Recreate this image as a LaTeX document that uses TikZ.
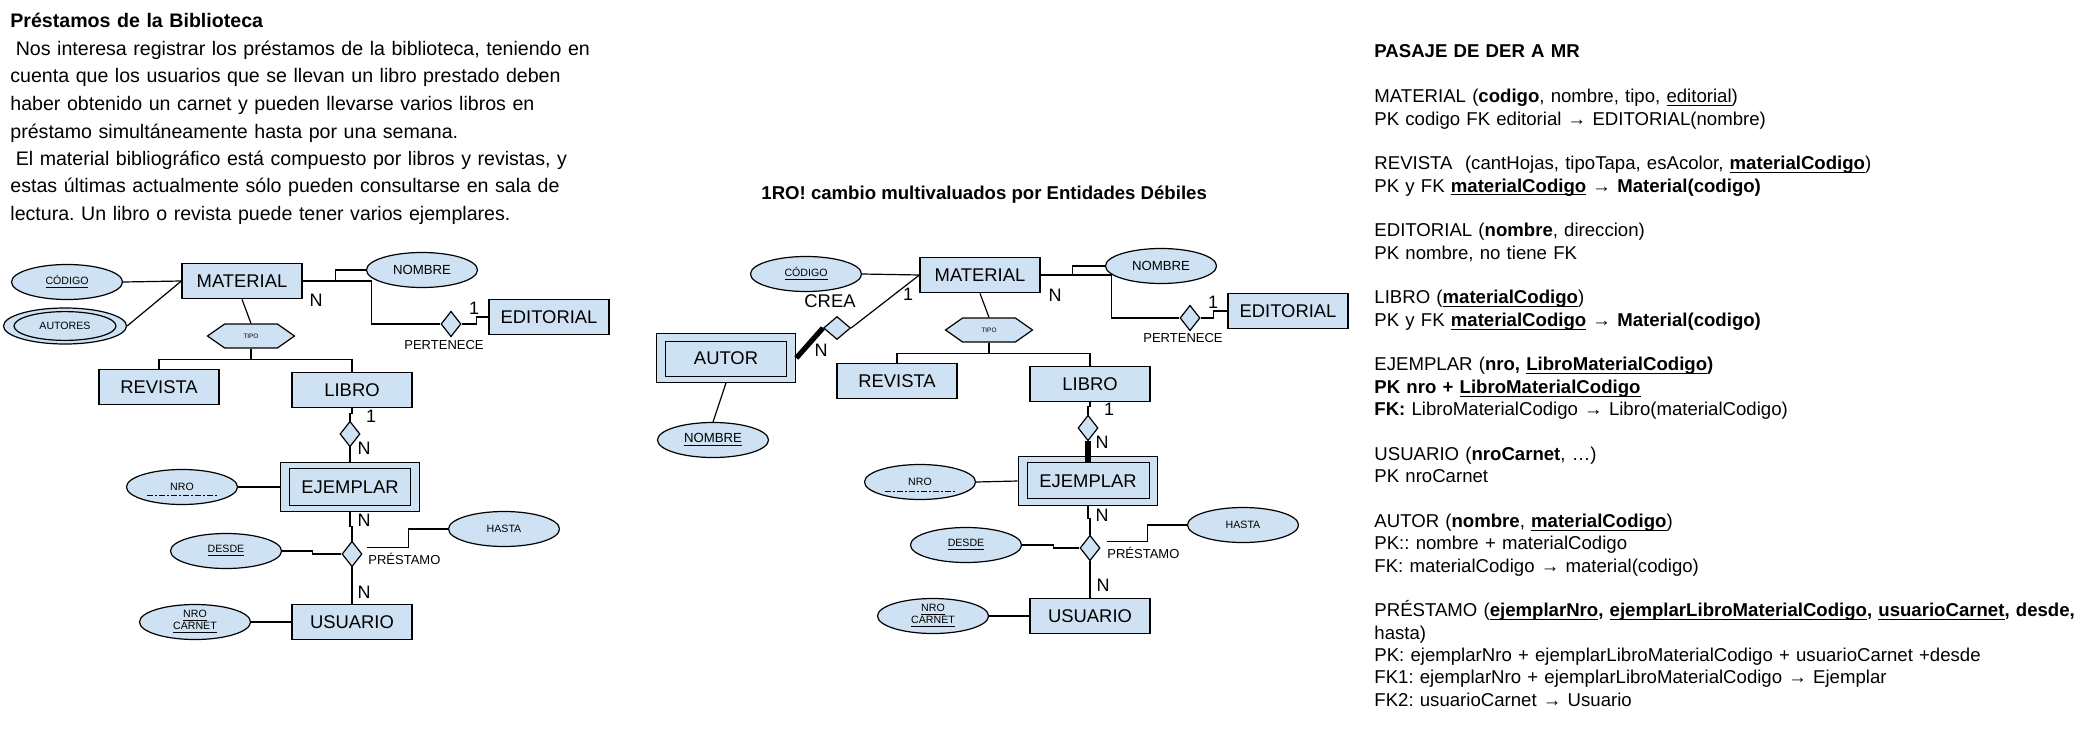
\documentclass[tikz,border=0pt]{standalone}
\usepackage{fontspec}
\setmainfont{Liberation Sans}
\usepackage{xcolor}
\usetikzlibrary{shapes.geometric, shapes.symbols}
\definecolor{erblue}{HTML}{CFE2F3}
\newcommand{\undl}[1]{\underline{\smash{#1}}}
\frenchspacing

\begin{document}
\begin{tikzpicture}[x=0.5pt,y=-0.5pt,
    entity/.style={draw, fill=erblue, line width=0.6pt, minimum width=60pt, minimum height=17.75pt, inner sep=0pt, font=\fontsize{9.2}{11}\selectfont},
    weakent/.style={entity, minimum width=69.75pt, minimum height=24.25pt},
    attr/.style={ellipse, draw, fill=erblue, line width=0.6pt, minimum width=55.5pt, minimum height=17.5pt, inner sep=0pt, font=\fontsize{5.3}{6.3}\selectfont},
    bigattr/.style={attr, font=\fontsize{6.6}{8}\selectfont},
    rel/.style={diamond, draw, fill=erblue, line width=0.6pt, minimum width=10pt, minimum height=12.75pt, inner sep=0pt},
    isa/.style={signal, signal to=east and west, signal pointer angle=70, draw, fill=erblue, line width=0.6pt, minimum width=43.5pt, minimum height=12pt, inner sep=0pt, font=\fontsize{3.2}{4}\selectfont},
    card/.style={inner sep=0pt, font=\fontsize{9}{11}\selectfont},
    rellbl/.style={inner sep=0pt, font=\fontsize{6.5}{8}\selectfont},
    conn/.style={line width=0.6pt},
    totalline/.style={line width=2.6pt},
    dashdotline/.style={line width=0.4pt, dash pattern=on 3pt off 1.2pt on 0.6pt off 1.2pt},
    txt/.style={inner sep=0pt, anchor=base west, align=left, text width=380pt, font=\fontsize{9.3}{11.175}\selectfont},
]
\useasboundingbox (0,0) rectangle (2096,738);

% Text Node
\node[txt, font=\fontsize{9.8}{13.75}\selectfont] (enunciado) at (10,28) {\textbf{Préstamos de la Biblioteca}\\
\hspace*{2.7pt}Nos interesa registrar los préstamos de la biblioteca, teniendo en\\
cuenta que los usuarios que se llevan un libro prestado deben\\
haber obtenido un carnet y pueden llevarse varios libros en\\
préstamo simultáneamente hasta por una semana.\\
\hspace*{2.7pt}El material bibliográfico está compuesto por libros y revistas, y\\
estas últimas actualmente sólo pueden consultarse en sala de\\
lectura. Un libro o revista puede tener varios ejemplares.};

%Shape: Left diagram
\node[entity] (material) at (242,281) {MATERIAL};
\node[attr] (codigo) at (67,282) {\underline{CÓDIGO}};
\node[attr, minimum width=61.5pt, minimum height=18pt] (autores) at (65,326) {AUTORES};
\draw[conn] (autores.center) ellipse [x radius=25.5pt, y radius=7.2pt];
\node[bigattr] (nombre) at (422,270) {NOMBRE};
\node[rel] (pertenece) at (451,324) {};
\node[entity] (editorial) at (549,317) {EDITORIAL};
\node[isa] (tipo) at (251,336) {TIPO};
\node[entity] (revista) at (159,387) {REVISTA};
\node[entity] (libro) at (352,390) {LIBRO};
\node[rel] (tiene) at (350,434) {};
\node[weakent] (ejemplar) at (350,487) {EJEMPLAR};
\draw[conn] ([shift={(10,-6)}]ejemplar.south west) rectangle ([shift={(-10,6)}]ejemplar.north east);
\node[attr] (nro) at (182,487) {NRO};
\draw[dashdotline] ([xshift=-17.5pt,yshift=-4pt]nro.center) -- ([xshift=17.5pt,yshift=-4pt]nro.center);
\node[rel] (prestamo) at (352,554) {};
\node[attr] (desde) at (226,551) {\underline{DESDE}};
\node[attr] (hasta) at (504,529) {HASTA};
\node[entity] (usuario) at (352,622) {USUARIO};
\node[attr, align=center] (nrocarnet) at (195,622) {\underline{NRO}\\\underline{CARNET}};

%Straight Lines
\draw[conn] (codigo.east) -- (material.west);
\draw[conn] (autores.east) -- (material.west);
\draw[conn] (material.east) -- ++(33,0) |- (nombre.west);
\draw[conn] (material.east) -- ++(69,0) |- (pertenece.west);
\draw[conn] (pertenece.east) -- ++(15,0) |- (editorial.west);
\draw[conn] (material.south) -- (tipo.north);
\draw[conn] (tipo.south) -- ++(0,11) -| (revista.north);
\draw[conn] (tipo.south) -- ++(0,11) -| (libro.north);
\draw[conn] (libro.south) -- ++(0,5) -| (tiene.north);
\draw[conn] (tiene.south) -- (ejemplar.north);
\draw[conn] (nro.east) -- (ejemplar.west);
\draw[conn] (ejemplar.south) -- ++(0,15) -| (prestamo.north);
\draw[conn] (desde.east) -- ++(30,0) |- (prestamo.west);
\draw[conn] ([xshift=5pt]prestamo.north east) -- ++(41,0) |- (hasta.west);
\draw[conn] (prestamo.south) -- (usuario.north);
\draw[conn] (nrocarnet.east) -- (usuario.west);

% Text Node
\node[card] (cmatN) at (316,300) {N};
\node[card] (cedi1) at (474,308) {1};
\node[rellbl] (lpertenece) at (444,345) {PERTENECE};
\node[card] (clib1) at (371,416) {1};
\node[card] (cejeN) at (364,448) {N};
\node[card] (cpreN) at (364,520) {N};
\node[rellbl, anchor=west] (lprestamo) at (368,559) {PRÉSTAMO};
\node[card] (cusuN) at (364,592) {N};

% Text Node
\node[inner sep=0pt, anchor=base west, font=\fontsize{9.3}{11}\selectfont\bfseries] (paso) at (761,199.5) {1RO! cambio multivaluados por Entidades Débiles};

%Shape: Middle diagram
\node[entity] (material2) at (980,275) {MATERIAL};
\node[attr] (codigo2) at (806,274) {\underline{CÓDIGO}};
\node[bigattr] (nombre2) at (1161,266) {NOMBRE};
\node[rel] (pertenece2) at (1190,318) {};
\node[entity] (editorial2) at (1288,311) {EDITORIAL};
\node[rel, minimum width=13.5pt, minimum height=11.5pt] (crea) at (837,328) {};
\node[weakent] (autor) at (726,358) {AUTOR};
\draw[conn] ([shift={(10,-6)}]autor.south west) rectangle ([shift={(-10,8)}]autor.north east);
\node[bigattr] (nombre3) at (713,440) {\underline{NOMBRE}};
\node[isa] (tipo2) at (989,330) {TIPO};
\node[entity] (revista2) at (897,381) {REVISTA};
\node[entity] (libro2) at (1090,384) {LIBRO};
\node[rel] (tiene2) at (1088,428) {};
\node[weakent] (ejemplar2) at (1088,481) {EJEMPLAR};
\draw[conn] ([shift={(10,-7)}]ejemplar2.south west) rectangle ([shift={(-9,6)}]ejemplar2.north east);
\node[attr] (nro2) at (920,482) {NRO};
\draw[dashdotline] ([xshift=-17.5pt,yshift=-4.5pt]nro2.center) -- ([xshift=17.5pt,yshift=-4.5pt]nro2.center);
\node[rel] (prestamo2) at (1090,548) {};
\node[attr] (desde2) at (966,545) {\underline{DESDE}};
\node[attr] (hasta2) at (1243,525) {HASTA};
\node[entity] (usuario2) at (1090,616) {USUARIO};
\node[attr, align=center] (nrocarnet2) at (933,616) {\underline{NRO}\\\underline{CARNET}};

%Straight Lines
\draw[conn] (codigo2.east) -- (material2.west);
\draw[conn] (crea.east) -- (material2.west);
\draw[totalline] (crea.west) -- (autor.east);
\draw[conn] (autor.south) -- (nombre3.north);
\draw[conn] (material2.east) -- ++(32,0) |- (nombre2.west);
\draw[conn] (material2.east) -- ++(71,0) |- (pertenece2.west);
\draw[conn] (pertenece2.east) -- ++(13,0) |- (editorial2.west);
\draw[conn] (material2.south) -- (tipo2.north);
\draw[conn] (tipo2.south) -- ++(0,10.5) -| (revista2.north);
\draw[conn] (tipo2.south) -- ++(0,10.5) -| (libro2.north);
\draw[conn] (libro2.south) -- ++(0,4) -| (tiene2.north);
\draw[totalline, line width=3pt] (tiene2.south) -- ([yshift=-3pt]ejemplar2.north);
\draw[conn] (nro2.east) -- (ejemplar2.west);
\draw[conn] (ejemplar2.south) -- ++(0,13) -| (prestamo2.north);
\draw[conn] (desde2.east) -- ++(31,0) |- (prestamo2.west);
\draw[conn] ([xshift=6pt]prestamo2.north east) -- ++(40,0) |- (hasta2.west);
\draw[conn] (prestamo2.south) -- (usuario2.north);
\draw[conn] (nrocarnet2.east) -- (usuario2.west);

% Text Node
\node[card, font=\fontsize{9.2}{11}\selectfont] (lcrea) at (830,301) {CREA};
\node[card] (ccrea1) at (908,294) {1};
\node[card] (cautN) at (821,350) {N};
\node[card] (cmat2N) at (1055,295) {N};
\node[card] (cedi21) at (1213,302) {1};
\node[rellbl] (lpertenece2) at (1183,338) {PERTENECE};
\node[card] (clib21) at (1109,409) {1};
\node[card] (ceje2N) at (1102,442) {N};
\node[card] (cpre2N) at (1102,515) {N};
\node[rellbl, anchor=west] (lprestamo2) at (1107,553) {PRÉSTAMO};
\node[card] (cusu2N) at (1103,585) {N};

% Text Node
\node[txt] (pasaje) at (1374,58) {\textbf{PASAJE DE DER A MR}\\[11.175pt]
MATERIAL (\textbf{codigo}, nombre, tipo, \undl{editorial})\\
PK codigo FK editorial → EDITORIAL(nombre)\\[11.175pt]
REVISTA\ \ (cantHojas, tipoTapa, esAcolor, \textbf{\undl{materialCodigo}})\\
PK y FK \textbf{\undl{materialCodigo}} → \textbf{Material(codigo)}\\[11.175pt]
EDITORIAL (\textbf{nombre}, direccion)\\
PK nombre, no tiene FK\\[11.175pt]
LIBRO (\textbf{\undl{materialCodigo}})\\
PK y FK \textbf{\undl{materialCodigo}} → \textbf{Material(codigo)}\\[11.175pt]
EJEMPLAR (\textbf{nro, \undl{LibroMaterialCodigo})}\\
\textbf{PK nro + \undl{LibroMaterialCodigo}}\\
\textbf{FK:} LibroMaterialCodigo → Libro(materialCodigo)\\[11.175pt]
USUARIO (\textbf{nroCarnet}, …)\\
PK nroCarnet\\[11.175pt]
AUTOR (\textbf{nombre}, \textbf{\undl{materialCodigo}})\\
PK:: nombre + materialCodigo\\
FK: materialCodigo → material(codigo)\\[11.175pt]
PRÉSTAMO (\textbf{\undl{ejemplarNro}, \undl{ejemplarLibroMaterialCodigo}, \undl{usuarioCarnet}, desde,}\\
hasta)\\
PK: ejemplarNro + ejemplarLibroMaterialCodigo + usuarioCarnet +desde\\
FK1: ejemplarNro + ejemplarLibroMaterialCodigo → Ejemplar\\
FK2: usuarioCarnet → Usuario};

\end{tikzpicture}
\end{document}
